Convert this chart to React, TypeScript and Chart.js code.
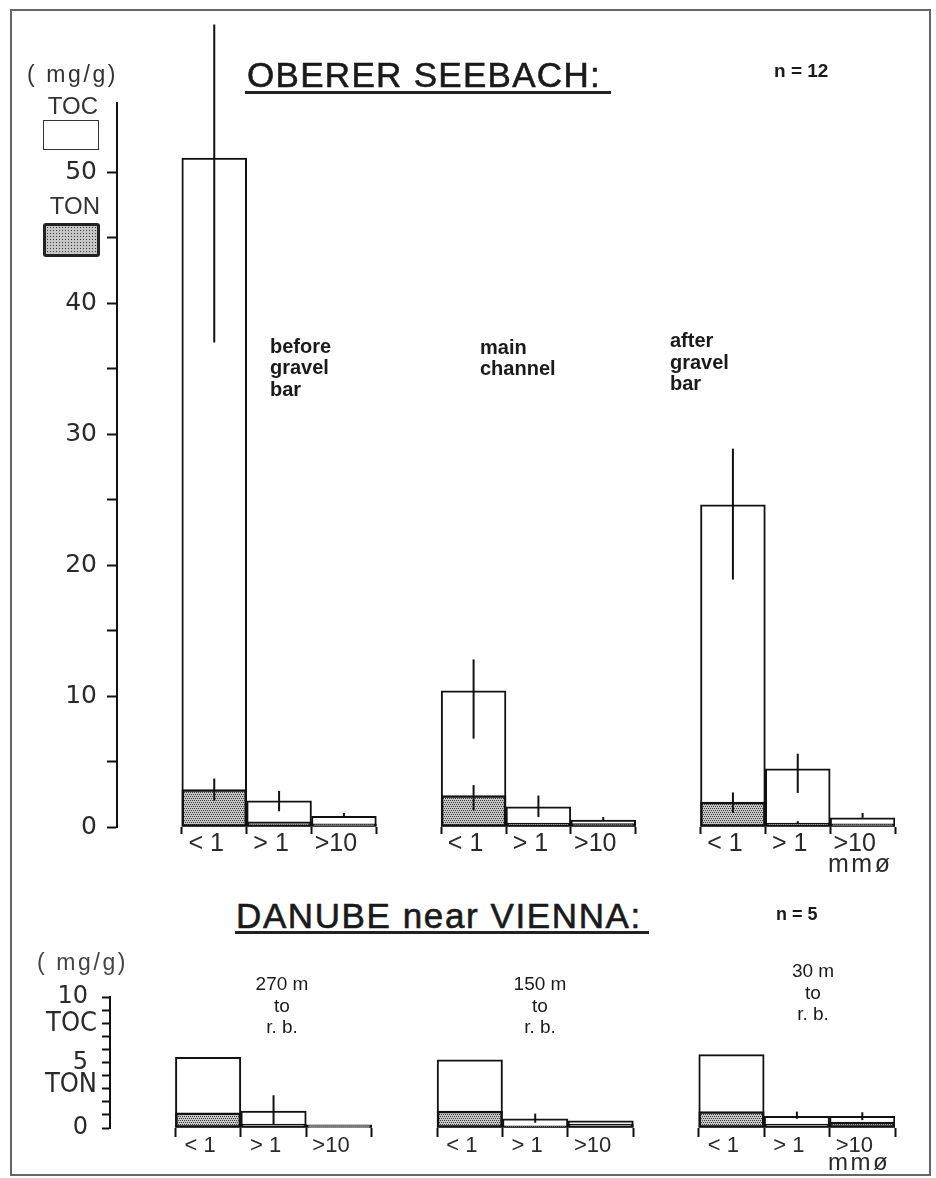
import React, { useEffect, useRef } from 'react';
import { Chart, registerables } from 'chart.js';

Chart.register(...registerables);

// ---------- data ----------
// 12 category slots: leading gap, 3 size classes, gap, 3 size classes, gap, 3 size classes
const CATEGORIES = ['', '< 1', '> 1', '>10', '', '< 1', '> 1', '>10', '', '< 1', '> 1', '>10'];

// OBERER SEEBACH (n = 12), mg/g
const SEEBACH_TOC = [null, 51.1, 2.0, 0.82, null, 10.4, 1.55, 0.52, null, 24.6, 4.45, 0.7];
const SEEBACH_TON = [null, 2.85, 0.4, 0.25, null, 2.4, 0.3, 0.27, null, 1.9, 0.3, 0.25];
const SEEBACH_TOC_ERR = [null, [37.0, 61.3], [1.2, 2.75], [0.82, 1.07], null, [6.75, 12.8], [0.76, 2.4], [0.52, 0.76], null, [18.9, 28.9], [2.6, 5.6], [0.7, 1.07]];
const SEEBACH_TON_ERR = [null, [2.0, 3.7], null, null, null, [1.27, 3.2], null, null, null, [1.07, 2.64], [0.3, 0.45], null];
const SEEBACH_Y_LABELS = [0, 10, 20, 30, 40, 50];

// DANUBE near VIENNA (n = 5), mg/g
const DANUBE_TOC = [null, 5.4, 1.3, 0.25, null, 5.2, 0.7, 0.55, null, 5.6, 0.9, 0.9];
const DANUBE_TON = [null, 1.15, 0.3, 0.1, null, 1.3, 0.15, 0.3, null, 1.25, 0.3, 0.45];
const DANUBE_TOC_ERR = [null, null, [0.3, 2.5], null, null, null, [0.4, 1.1], null, null, null, [0.7, 1.25], [0.6, 1.2]];
const DANUBE_Y_LABELS = [0, 5, 10];

const SANS = '"Liberation Sans", Arial, sans-serif';
const NARROW = '"Liberation Sans Narrow", "DejaVu Sans Condensed", "Liberation Sans", sans-serif';
const DEJAVU = '"DejaVu Sans", sans-serif';
const INK = '#111';

function makePattern(): CanvasPattern | string {
  const c = document.createElement('canvas');
  c.width = 4;
  c.height = 4;
  const g = c.getContext('2d');
  if (!g) return '#999';
  g.fillStyle = '#c6c6c6';
  g.fillRect(0, 0, 4, 4);
  g.fillStyle = '#3a3a3a';
  g.fillRect(0, 0, 1, 1);
  g.fillRect(2, 0, 1, 1);
  g.fillRect(1, 2, 1, 1);
  g.fillRect(3, 2, 1, 1);
  return g.createPattern(c, 'repeat') || '#999';
}

const errorBarPlugin = {
  id: 'errorBars',
  afterDatasetsDraw(chart: any) {
    const { ctx } = chart;
    const y = chart.scales.y;
    chart.data.datasets.forEach((ds: any, di: number) => {
      const errs = ds.errorBars;
      if (!errs) return;
      const meta = chart.getDatasetMeta(di);
      ctx.save();
      ctx.strokeStyle = INK;
      ctx.lineWidth = 2;
      meta.data.forEach((el: any, i: number) => {
        const e = errs[i];
        if (!e) return;
        ctx.beginPath();
        ctx.moveTo(el.x, y.getPixelForValue(e[0]));
        ctx.lineTo(el.x, y.getPixelForValue(e[1]));
        ctx.stroke();
      });
      ctx.restore();
    });
  },
};

interface ChartOpts {
  toc: (number | null)[];
  ton: (number | null)[];
  tocErr: any[];
  tonErr: any[] | null;
  yMax: number;
  yStep: number;
  yTickMax: number;
  yLabels: number[];
  padTop: number;
  axisLeft: number;
  plotRight: number;
  xAxisHeight: number;
  yTickLen: number;
  yPad: number;
  yFontSize: number;
  xTickLen: number;
  xFontSize: number;
  xPad: number;
  pattern: CanvasPattern | string;
}

function buildChart(canvas: HTMLCanvasElement, o: ChartOpts) {
  const w = canvas.width;
  return new Chart(canvas, {
    type: 'bar',
    data: {
      labels: CATEGORIES,
      datasets: [
        {
          label: 'TON',
          data: o.ton,
          backgroundColor: o.pattern as any,
          borderColor: INK,
          borderWidth: 2.5,
          borderSkipped: false,
          barPercentage: 1,
          categoryPercentage: 1,
          grouped: false,
          order: 0,
          errorBars: o.tonErr,
        } as any,
        {
          label: 'TOC',
          data: o.toc,
          backgroundColor: '#ffffff',
          borderColor: INK,
          borderWidth: 2,
          borderSkipped: false,
          barPercentage: 1,
          categoryPercentage: 1,
          grouped: false,
          order: 1,
          errorBars: o.tocErr,
        } as any,
      ],
    },
    options: {
      animation: false,
      responsive: false,
      devicePixelRatio: 1,
      events: [],
      layout: { padding: { top: o.padTop, right: w - o.plotRight, left: 0, bottom: 0 } },
      plugins: { legend: { display: false }, tooltip: { enabled: false }, title: { display: false } },
      scales: {
        x: {
          type: 'category',
          offset: true,
          afterFit: (s: any) => {
            s.height = o.xAxisHeight;
          },
          border: { display: false },
          grid: {
            offset: true,
            drawOnChartArea: false,
            drawTicks: true,
            tickLength: o.xTickLen,
            tickWidth: 2,
            color: (ctx: any) => (ctx.index === 0 ? 'rgba(0,0,0,0)' : INK),
            tickColor: (ctx: any) => (ctx.index === 0 ? 'rgba(0,0,0,0)' : INK),
          },
          ticks: {
            autoSkip: false,
            maxRotation: 0,
            minRotation: 0,
            padding: o.xPad,
            labelOffset: -8,
            color: '#2a2a2a',
            font: { family: SANS, size: o.xFontSize, lineHeight: 1 },
          },
        } as any,
        y: {
          type: 'linear',
          min: 0,
          max: o.yMax,
          afterFit: (s: any) => {
            s.width = o.axisLeft;
          },
          border: { display: true, color: INK, width: 2 },
          grid: {
            drawOnChartArea: false,
            drawTicks: true,
            tickLength: o.yTickLen,
            tickWidth: 2,
            tickColor: (ctx: any) => (ctx.tick && ctx.tick.value <= o.yTickMax ? INK : 'rgba(0,0,0,0)'),
          },
          ticks: {
            stepSize: o.yStep,
            includeBounds: false,
            autoSkip: false,
            padding: o.yPad,
            color: '#2a2a2a',
            font: { family: DEJAVU, size: o.yFontSize, lineHeight: 1 },
            callback: (v: any) => (o.yLabels.includes(Number(v)) ? String(v) : ''),
          },
        } as any,
      },
    },
    plugins: [errorBarPlugin],
  } as any);
}

function T(props: { x: number; y: number; s: number; children: any; w?: number; align?: string; bold?: boolean; family?: string; lh?: number; ls?: number; color?: string; stroke?: number }) {
  const { x, y, s, children, w, align, bold, family, lh, ls, color, stroke } = props;
  return (
    <div
      style={{
        position: 'absolute',
        left: x,
        top: y,
        width: w,
        textAlign: (align as any) || 'left',
        fontFamily: family || SANS,
        fontSize: s,
        fontWeight: bold ? 700 : 400,
        lineHeight: (lh || s) + 'px',
        letterSpacing: ls ? ls + 'px' : undefined,
        color: color || '#1a1a1a',
        whiteSpace: 'pre',
        WebkitTextStroke: stroke ? `${stroke}px ${color || '#1a1a1a'}` : undefined,
      }}
    >
      {children}
    </div>
  );
}

export default function App() {
  const topRef = useRef<HTMLCanvasElement>(null);
  const botRef = useRef<HTMLCanvasElement>(null);

  useEffect(() => {
    const pattern = makePattern();
    const c1 = buildChart(topRef.current as HTMLCanvasElement, {
      toc: SEEBACH_TOC,
      ton: SEEBACH_TON,
      tocErr: SEEBACH_TOC_ERR,
      tonErr: SEEBACH_TON_ERR,
      yMax: 55.3,
      yStep: 5,
      yTickMax: 50,
      yLabels: SEEBACH_Y_LABELS,
      padTop: 103,
      axisLeft: 117,
      plotRight: 895,
      xAxisHeight: 53,
      yTickLen: 10,
      yPad: 10,
      yFontSize: 25,
      xTickLen: 7,
      xFontSize: 25,
      xPad: -2,
      pattern,
    });
    const c2 = buildChart(botRef.current as HTMLCanvasElement, {
      toc: DANUBE_TOC,
      ton: DANUBE_TON,
      tocErr: DANUBE_TOC_ERR,
      tonErr: null,
      yMax: 10,
      yStep: 1,
      yTickMax: 10,
      yLabels: DANUBE_Y_LABELS,
      padTop: 57,
      axisLeft: 110,
      plotRight: 895,
      xAxisHeight: 50,
      yTickLen: 8,
      yPad: 14,
      yFontSize: 24,
      xTickLen: 9,
      xFontSize: 22,
      xPad: -2,
      pattern,
    });
    return () => {
      c1.destroy();
      c2.destroy();
    };
  }, []);

  return (
    <div style={{ position: 'absolute', left: 0, top: 0, width: 936, height: 1178, background: '#fff', overflow: 'hidden' }}>
      {/* page frame */}
      <div style={{ position: 'absolute', left: 10, top: 9, width: 921, height: 1167, border: '2px solid #666', boxSizing: 'border-box' }} />

      <canvas ref={topRef} width={936} height={880} style={{ position: 'absolute', left: 0, top: 0, width: 936, height: 880 }} />
      <canvas ref={botRef} width={936} height={238} style={{ position: 'absolute', left: 0, top: 940, width: 936, height: 238 }} />

      {/* ---- top chart texts ---- */}
      <T x={247} y={57} s={35} ls={1.3} stroke={0.6}>OBERER SEEBACH:</T>
      <div style={{ position: 'absolute', left: 245, top: 91, width: 366, height: 2.5, background: '#222' }} />
      <T x={774} y={61} s={19} bold>{'n = 12'}</T>

      <T x={27} y={63} s={23} ls={2.6} color="#333">( mg/g)</T>
      <T x={40} y={94} s={24} w={58} align="right" color="#333">TOC</T>
      <div style={{ position: 'absolute', left: 43, top: 120, width: 56, height: 30, border: '1.5px solid #333', boxSizing: 'border-box', background: '#fff' }} />
      <T x={40} y={194} s={24} w={60} align="right" color="#333">TON</T>
      <div
        style={{
          position: 'absolute',
          left: 43,
          top: 223,
          width: 57,
          height: 34,
          border: '3px solid #222',
          borderRadius: 3,
          boxSizing: 'border-box',
          backgroundColor: '#c6c6c6',
          backgroundImage: 'radial-gradient(#3a3a3a 30%, transparent 35%)',
          backgroundSize: '3px 3px',
        }}
      />

      <T x={270} y={335.5} s={20} lh={21.7} bold>{'before\ngravel\nbar'}</T>
      <T x={480} y={336.5} s={20} lh={21.7} bold>{'main\nchannel'}</T>
      <T x={670} y={330} s={20} lh={21.7} bold>{'after\ngravel\nbar'}</T>

      <T x={828} y={851} s={25} ls={2.5} color="#2a2a2a">mmø</T>

      {/* ---- bottom chart texts ---- */}
      <T x={236} y={898} s={35} ls={1.6} stroke={0.6}>DANUBE near VIENNA:</T>
      <div style={{ position: 'absolute', left: 235, top: 931, width: 414, height: 2.5, background: '#222' }} />
      <T x={776} y={905} s={18} bold>{'n = 5'}</T>

      <T x={37} y={951} s={23} ls={2.6} color="#444">( mg/g)</T>
      <T x={30} y={1008} s={27} w={67} align="right" family={NARROW} color="#2a2a2a">TOC</T>
      <T x={30} y={1069} s={27} w={67} align="right" family={NARROW} color="#2a2a2a">TON</T>

      <T x={222} y={973} s={19} w={120} align="center" lh={21.5}>{'270 m\nto\nr. b.'}</T>
      <T x={480} y={973} s={19} w={120} align="center" lh={21.5}>{'150 m\nto\nr. b.'}</T>
      <T x={753} y={960} s={19} w={120} align="center" lh={21.5}>{'30 m\nto\nr. b.'}</T>

      <T x={828} y={1150} s={24} ls={2.5} color="#2a2a2a">mmø</T>
    </div>
  );
}
